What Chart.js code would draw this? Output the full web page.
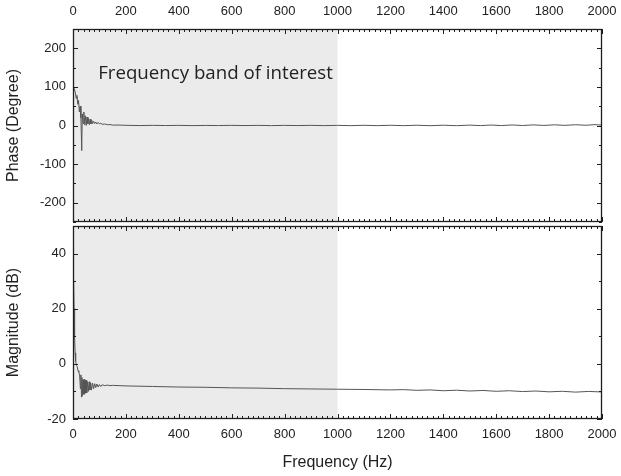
<!DOCTYPE html>
<html>
<head>
<meta charset="utf-8">
<script src="https://cdn.jsdelivr.net/npm/chart.js@4.4.1/dist/chart.umd.min.js"></script>
<style>
  html, body { margin: 0; padding: 0; background: #fff; }
  #wrap { position: relative; width: 621px; height: 476px; }
  #phaseBox { position: absolute; left: 0; top: 0; width: 621px; height: 224px; }
  #magBox { position: absolute; left: 0; top: 222px; width: 621px; height: 254px; }
</style>
</head>
<body>
<div id="wrap">
  <div id="phaseBox"><canvas id="phaseChart"></canvas></div>
  <div id="magBox"><canvas id="magChart"></canvas></div>
</div>
<script>
// tick labels
const freqTicks = [0, 200, 400, 600, 800, 1000, 1200, 1400, 1600, 1800, 2000];
const phaseTicks = [-200, -100, 0, 100, 200];
const magTicks = [-20, 0, 20, 40];

// shaded band (Hz)
const bandRange = [0, 1000];
const bandLabel = "Frequency band of interest";

// phase response
const phaseFreq = [0, 3, 6, 9, 12, 15, 18, 21, 24, 27, 30, 33, 35, 38, 41, 44, 47, 50, 53, 56,
  59, 62, 65, 68, 71, 74, 78, 82, 86, 90, 95, 100, 105, 110, 120, 130, 140, 150, 170, 200,
  250, 300, 350, 400, 450, 500, 550, 600, 650, 700, 750, 800, 850, 900, 950, 1000, 1050, 1100, 1150, 1200,
  1250, 1300, 1350, 1400, 1450, 1500, 1540, 1580, 1620, 1660, 1700, 1740, 1780, 1820, 1860, 1900, 1940, 1970, 2000];
const phaseDeg = [100, 98, 92, 85, 70, 78, 55, 65, 35, 50, 20, -65, 30, 5, 35, 2, 25, 0, 22, 4,
  18, 2, 16, 4, 13, 5, 11, 5, 9, 4, 8, 4, 6, 3, 4, 2, 2.5, 1, 1.2, 0.5,
  -0.2, 0.4, -0.1, 0.3, -0.3, 0.2, -0.2, 0.4, -0.2, 0.3, -0.3, 0.3, -0.2, 0.4, -0.3, 0.4, -0.4, 0.5, -0.4, 0.6,
  -0.4, 0.7, -0.5, 0.8, -0.5, 1.0, -0.3, 1.2, -0.2, 1.4, 0.0, 1.6, 0.2, 1.8, 0.4, 2.0, 0.6, 2.2, 1.2];

// magnitude response
const magFreq = [0, 2, 4, 6, 8, 10, 13, 16, 19, 22, 25, 28, 30, 32, 34, 36, 38, 40, 42, 44,
  46, 48, 50, 52, 55, 58, 61, 64, 67, 70, 74, 78, 82, 86, 90, 95, 100, 105, 110, 120,
  130, 140, 150, 200, 300, 400, 500, 600, 700, 800, 900, 1000, 1100, 1200, 1250, 1300, 1350, 1400, 1450, 1500,
  1550, 1600, 1650, 1700, 1750, 1800, 1850, 1900, 1950, 2000];
const magDb = [42, 32, 20, 10, 4, 1, -0.5, -1, -2.5, -3, -4, -9, -4, -12, -5, -11.5, -6, -11, -5.5, -11,
  -6, -10.5, -6, -10.5, -6.5, -10, -6.5, -9.5, -7, -9.5, -7, -9, -7.2, -8.6, -7.3, -8.4, -7.5, -8.2, -7.6, -7.9,
  -7.7, -7.9, -7.8, -8.0, -8.2, -8.4, -8.5, -8.7, -8.8, -9.0, -9.1, -9.2, -9.3, -9.45, -9.35, -9.6, -9.45, -9.75, -9.55, -9.85,
  -9.65, -9.95, -9.75, -10.05, -9.85, -10.15, -9.95, -10.25, -10.0, -10.2];

Chart.defaults.font.family = "'Liberation Sans', Arial, sans-serif";
Chart.defaults.font.size = 13;
Chart.defaults.color = '#222';

// grey band, boxed frame with inward ticks, optional note
const panelFrame = {
  id: 'panelFrame',
  beforeDatasetsDraw(chart, args, opts) {
    const { ctx, chartArea: a, scales: { x } } = chart;
    const x0 = x.getPixelForValue(bandRange[0]);
    const x1 = x.getPixelForValue(bandRange[1]);
    ctx.save();
    ctx.fillStyle = '#ebebeb';
    ctx.fillRect(x0, a.top, x1 - x0, a.bottom - a.top);
    ctx.restore();
  },
  afterDatasetsDraw(chart, args, opts) {
    const { ctx, chartArea: a, scales: { x, y } } = chart;
    ctx.save();
    ctx.strokeStyle = '#1e1e1e';
    ctx.lineWidth = 1;
    ctx.beginPath();
    for (let v = x.min; v <= x.max + 1e-6; v += opts.xMinor) {
      const px = Math.round(x.getPixelForValue(v)) + 0.5;
      const len = freqTicks.includes(Math.round(v)) ? 5 : 3;
      ctx.moveTo(px, a.top); ctx.lineTo(px, a.top + len);
      ctx.moveTo(px, a.bottom); ctx.lineTo(px, a.bottom - len);
    }
    for (let v = y.min; v <= y.max + 1e-6; v += opts.yMinor) {
      const py = Math.round(y.getPixelForValue(v)) + 0.5;
      const len = opts.yMajor.includes(Math.round(v)) ? 5 : 3;
      ctx.moveTo(a.left, py); ctx.lineTo(a.left + len, py);
      ctx.moveTo(a.right, py); ctx.lineTo(a.right - len, py);
    }
    ctx.stroke();
    ctx.lineWidth = 1.3;
    ctx.strokeRect(a.left + 0.5, a.top + 0.5, a.right - a.left - 1, a.bottom - a.top - 1);
    if (opts.note) {
      ctx.fillStyle = '#222';
      ctx.font = "18.7px 'Open Sans', sans-serif";
      ctx.textBaseline = 'alphabetic';
      ctx.fillText(opts.note.text, x.getPixelForValue(opts.note.x), y.getPixelForValue(opts.note.y));
    }
    ctx.restore();
  }
};

function makePanel(canvasId, freq, vals, yMin, yMax, yTicks, yTitle, xPos, cfg) {
  const ctx = document.getElementById(canvasId).getContext('2d');
  return new Chart(ctx, {
    type: 'line',
    data: {
      datasets: [{
        data: freq.map((f, i) => ({ x: f, y: vals[i] })),
        borderColor: '#555',
        borderWidth: 1,
        pointRadius: 0,
        tension: 0,
        fill: false
      }]
    },
    options: {
      responsive: true,
      maintainAspectRatio: false,
      animation: false,
      layout: { padding: cfg.padding },
      plugins: {
        legend: { display: false },
        tooltip: { enabled: false },
        panelFrame: cfg.frame
      },
      scales: {
        x: {
          type: 'linear',
          position: xPos,
          min: 0,
          max: 2000,
          afterBuildTicks: s => { s.ticks = freqTicks.map(value => ({ value })); },
          afterFit: s => { s.height = cfg.xHeight; s.paddingLeft = 0; s.paddingRight = 0; },
          grid: { display: false, drawTicks: false },
          border: { display: false },
          ticks: { padding: cfg.xPad, maxRotation: 0, color: '#222', callback: v => String(v) },
          title: cfg.xTitle
        },
        y: {
          type: 'linear',
          min: yMin,
          max: yMax,
          afterBuildTicks: s => { s.ticks = yTicks.map(value => ({ value })); },
          afterFit: s => { s.width = 73; s.paddingTop = 0; s.paddingBottom = 0; },
          grid: { display: false, drawTicks: false },
          border: { display: false },
          ticks: { padding: 7, color: '#222', callback: v => String(v) },
          title: {
            display: true,
            text: yTitle,
            font: { size: 16 },
            color: '#222',
            padding: { top: 4, bottom: 0 }
          }
        }
      }
    },
    plugins: [panelFrame]
  });
}

makePanel('phaseChart', phaseFreq, phaseDeg, -250, 250, phaseTicks, 'Phase (Degree)', 'top', {
  padding: { left: 0, right: 19, top: 0, bottom: 2 },
  xHeight: 29,
  xPad: 10,
  xTitle: { display: false },
  frame: { xMinor: 20, yMinor: 50, yMajor: phaseTicks, note: { text: bandLabel, x: 95, y: 120 } }
});

makePanel('magChart', magFreq, magDb, -20, 50, magTicks, 'Magnitude (dB)', 'bottom', {
  padding: { left: 0, right: 19, top: 4, bottom: 0 },
  xHeight: 57,
  xPad: 8,
  xTitle: { display: true, text: 'Frequency (Hz)', font: { size: 16 }, color: '#222', padding: { top: 4, bottom: 4 } },
  frame: { xMinor: 20, yMinor: 10, yMajor: magTicks, note: null }
});
</script>
</body>
</html>
